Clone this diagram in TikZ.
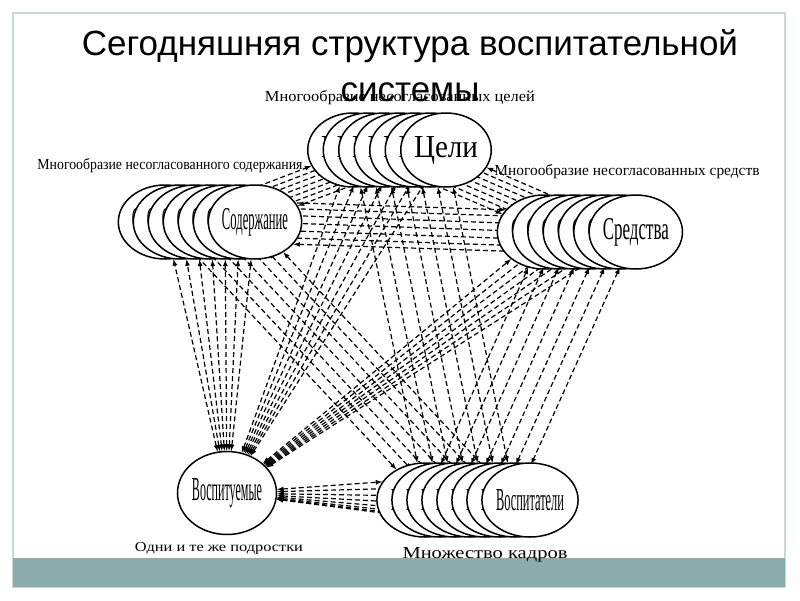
\documentclass[tikz,border=0pt]{standalone}
\usepackage{fontspec}
\setmainfont{Liberation Serif}
\setsansfont{Liberation Sans}
\usepackage{graphicx}
\usetikzlibrary{shapes.geometric}
\definecolor{bartone}{HTML}{8AACAB}
\definecolor{framegray}{HTML}{CDD6D5}
\pgfdeclarelayer{background}
\pgfsetlayers{background,main}
\tikzset{
  stackel/.style={ellipse, draw, line width=1.5pt, fill=white, minimum width=84pt, minimum height=74pt, inner sep=0pt},
  link/.style={black, dash pattern=on 5pt off 3pt, line width=1.2pt, latex-latex},
  caption/.style={anchor=base, inner sep=0pt}
}
\begin{document}
\begin{tikzpicture}[x=1pt,y=-1pt]
                \useasboundingbox (0,0) rectangle (800,600);
                % Title
                \node [font=\sffamily\fontsize{35}{46}\selectfont, align=center, anchor=north, inner sep=0pt] (title) at (410,29) {Сегодняшняя структура воспитательной\\системы};
                % Stacks
                \foreach \k in {1,...,7}
                    \node [stackel] (goal\k) at ({353+15.5*(\k-1)},150) {\resizebox{64pt}{21pt}{Цели}};
                \foreach \k in {1,...,7}
                    \node [stackel] (cont\k) at ({165+15*(\k-1)},222) {\resizebox{66pt}{21pt}{Содержание}};
                \foreach \k in {1,...,7}
                    \node [stackel] (means\k) at ({544+15.3*(\k-1)},232) {\resizebox{66pt}{21pt}{Средства}};
                \foreach \k in {1,...,8}
                    \node [stackel] (teach\k) at ({425+15*(\k-1)},500) {\resizebox{68pt}{21pt}{Воспитатели}};
                \node [stackel, minimum width=90pt, minimum height=83pt] (pupils) at (227,493) {\resizebox{70pt}{22pt}{Воспитуемые}};
                \begin{pgfonlayer}{background}
                % Frame and bottom bar
                \fill [white] (0,0) rectangle (800,600);
                \draw [framegray, line width=1.5pt] (13,13) rectangle (785,587);
                \fill [bartone] (13,558) rectangle (785,587);
                % Links
                \foreach \k in {1,...,7} {
                    \pgfmathtruncatemacro\ang{40-10*\k}
                    \pgfmathtruncatemacro\bng{140+10*\k}
                    \draw [link] (pupils) -- (cont\k);
                    \draw [link] (pupils) -- (goal\k);
                    \draw [link] (pupils) -- (means\k);
                    \draw [link] (cont\k) -- (goal\k);
                    \draw [link] (goal\k) -- (means\k);
                    \draw [link] (cont\k.\ang) -- (means\k.\bng);
                    \draw [link] (cont\k) -- (teach\k);
                    \draw [link] (goal\k) -- (teach\k);
                    \draw [link] (means\k) -- (teach\k);
                }
                \foreach \k in {1,...,8} {
                    \pgfmathtruncatemacro\tng{148+9*\k}
                    \draw [link] (pupils) -- (teach\k.\tng);
                }
                \end{pgfonlayer}
                % Captions
                \node [caption] (goalcap) at (400,101) {\resizebox{270pt}{11pt}{Многообразие несогласованных целей}};
                \node [caption] (contcap) at (170,169) {\resizebox{265pt}{11pt}{Многообразие несогласованного содержания}};
                \node [caption] (meanscap) at (627,175) {\resizebox{265pt}{11pt}{Многообразие несогласованных средств}};
                \node [caption] (pupilscap) at (219,551) {\resizebox{168pt}{9pt}{Одни и те же подростки}};
                \node [caption] (teachcap) at (485,558) {\resizebox{165pt}{11pt}{Множество кадров}};
            \end{tikzpicture}
\end{document}
